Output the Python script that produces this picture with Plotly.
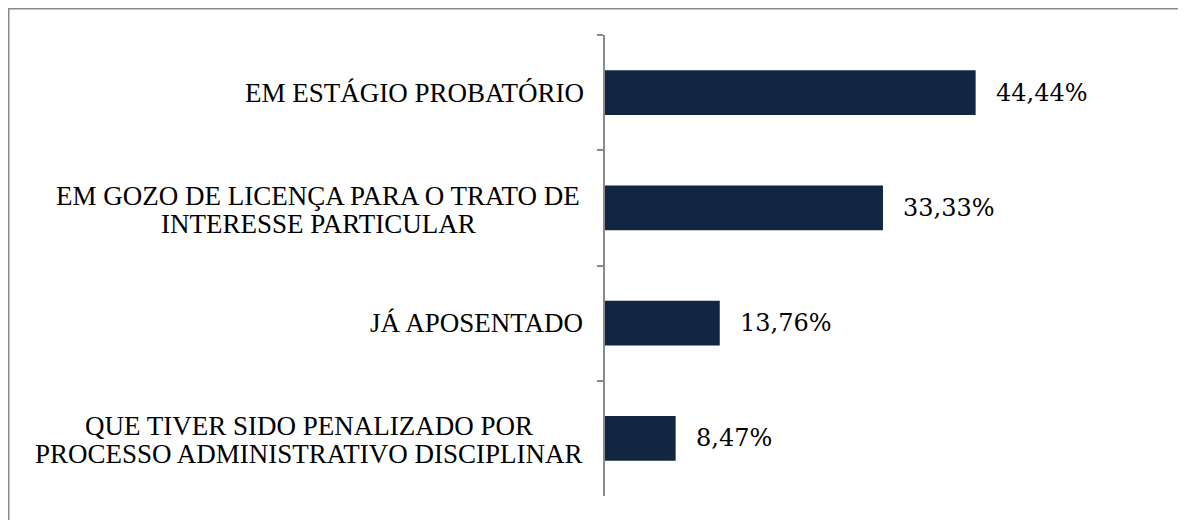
import plotly.graph_objects as go

categories = [
    "EM ESTÁGIO PROBATÓRIO",
    "EM GOZO DE LICENÇA PARA O TRATO DE<br>INTERESSE PARTICULAR",
    "JÁ APOSENTADO",
    "QUE TIVER SIDO PENALIZADO POR<br>PROCESSO ADMINISTRATIVO DISCIPLINAR",
]
values = [44.44, 33.33, 13.76, 8.47]
value_labels = [f"{v:.2f}".replace(".", ",") + "%" for v in values]

FONT_CAT = "'Liberation Serif', 'Times New Roman', serif"
FONT_VAL = "'DejaVu Serif', serif"
CAT_SIZE = 27
VAL_SIZE = 24
BAR_COLOR = "#132641"
GRAY = "#8a8a8a"

# Times-compatible advance widths (per 1000 em) used to centre wrapped lines
TIMES_W = {
    "A": 722, "B": 667, "C": 667, "D": 722, "E": 611, "F": 556, "G": 722, "H": 722,
    "I": 333, "J": 389, "K": 722, "L": 611, "M": 889, "N": 722, "O": 722, "P": 556,
    "Q": 722, "R": 667, "S": 556, "T": 611, "U": 722, "V": 722, "W": 944, "X": 722,
    "Y": 722, "Z": 611, " ": 250, "Á": 722, "Ó": 722, "Ç": 667,
}

def text_width(s, size):
    return sum(TIMES_W.get(ch, 600) for ch in s) * size / 1000.0

# page has an 8px body margin; figure starts at (8, 8)
W, H = 1178, 512
ml, mt, mb = 597, 27, 24
mr = 164
pw, ph = W - ml - mr, H - mt - mb
GAP = 20          # label right edge to axis
LINE_GAP = 28     # vertical distance between wrapped lines

fig = go.Figure(
    go.Bar(
        x=values,
        y=categories,
        orientation="h",
        marker=dict(color=BAR_COLOR, line=dict(width=0)),
        hoverinfo="skip",
    )
)

annotations = []
for c in categories:
    lines = c.split("<br>")
    n = len(lines)
    block_w = max(text_width(ln, CAT_SIZE) for ln in lines)
    for i, ln in enumerate(lines):
        shift = ((n - 1) / 2 - i) * LINE_GAP
        if n > 1:
            shift -= 2
        annotations.append(dict(
            x=0, xref="paper", y=c, yref="y", text=ln, showarrow=False,
            xanchor="center", yanchor="middle",
            xshift=-GAP - block_w / 2, yshift=shift,
            font=dict(family=FONT_CAT, size=CAT_SIZE, color="#000000"),
        ))

for c, v, lab in zip(categories, values, value_labels):
    annotations.append(dict(
        x=v, xref="x", y=c, yref="y", text=lab, showarrow=False,
        xanchor="left", yanchor="middle", xshift=18,
        font=dict(family=FONT_VAL, size=VAL_SIZE, color="#000000"),
    ))

def px_x(p):
    return (p - ml) / pw

def px_y(p):
    return (H - mb - p) / ph

shapes = [
    dict(type="line", xref="paper", yref="paper", x0=px_x(0), x1=px_x(W + 10),
         y0=px_y(0.5), y1=px_y(0.5), line=dict(color=GRAY, width=2)),
    dict(type="line", xref="paper", yref="paper", x0=px_x(0.5), x1=px_x(0.5),
         y0=px_y(0), y1=px_y(H + 10), line=dict(color=GRAY, width=2)),
]

fig.update_layout(
    width=W, height=H,
    margin=dict(l=ml, r=mr, t=mt, b=mb, pad=0),
    paper_bgcolor="white", plot_bgcolor="white",
    bargap=0.61,
    showlegend=False,
    annotations=annotations,
    shapes=shapes,
    xaxis=dict(range=[0, 50], visible=False, fixedrange=True),
    yaxis=dict(
        categoryorder="array", categoryarray=categories, autorange="reversed",
        showline=True, linecolor=GRAY, linewidth=2,
        ticks="outside", tickson="boundaries", ticklen=6, tickcolor=GRAY, tickwidth=2,
        showticklabels=False, showgrid=False, zeroline=False, fixedrange=True,
    ),
)

fig.write_html("out.html", config={"displayModeBar": False})
